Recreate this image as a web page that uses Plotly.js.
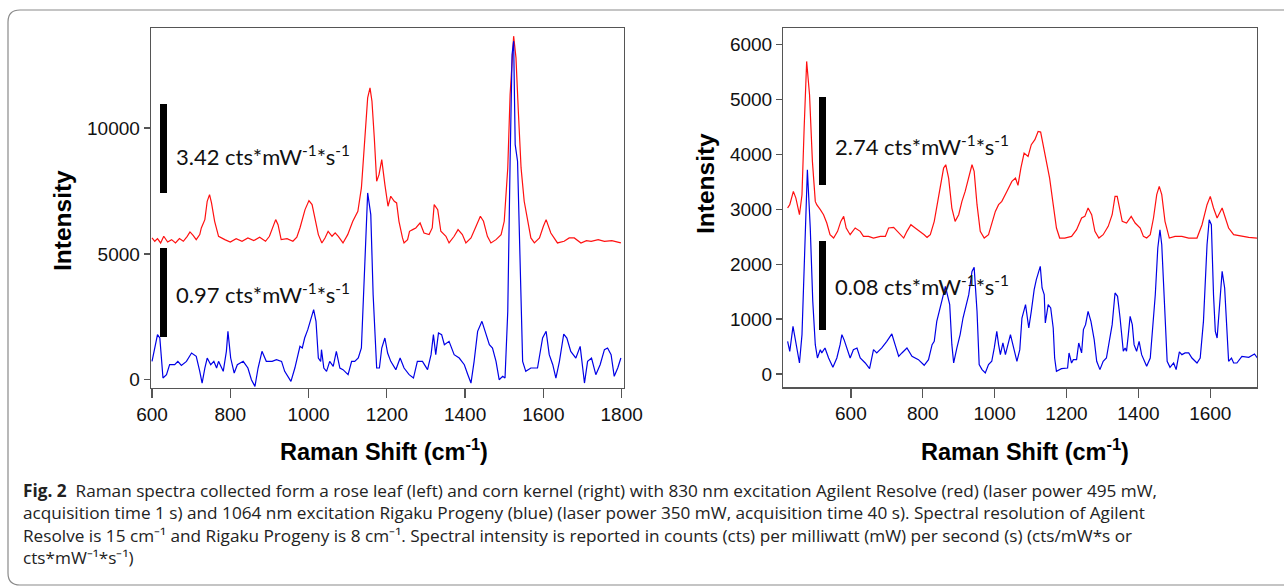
<!DOCTYPE html>
<html><head><meta charset="utf-8">
<script src="https://cdn.plot.ly/plotly-3.0.1.min.js"></script>
<style>html,body{margin:0;padding:0;background:#fff;} #chart{width:1284px;height:586px;}</style>
</head><body><div id="chart"></div>
<script>
// ---------- DATA ----------
// Left panel: rose leaf
const leftRedX = [600,607,614,622,630,640,650,660,670,680,690,697,705,713,722,726,735,741,747,752,760,770,786,800,815,830,845,860,875,890,900,908,916,922,930,945,960,970,978,991,1001,1009,1016,1025,1034,1042,1050,1060,1068,1076,1088,1100,1113,1126,1135,1143,1151,1157,1162,1168,1174,1180,1187,1195,1203,1210,1219,1225,1231,1240,1244,1253,1258,1266,1274,1285,1295,1308,1316,1321,1330,1338,1351,1359,1372,1382,1393,1402,1415,1428,1439,1447,1457,1466,1479,1492,1500,1509,1515,1524,1530,1536,1543,1551,1560,1568,1577,1590,1600,1607,1619,1636,1653,1666,1679,1696,1710,1722,1740,1756,1775,1798];
const leftRedY = [5631,5499,5605,5433,5698,5472,5565,5433,5605,5499,5698,5870,5737,5565,5764,6029,6360,7089,7354,7022,6294,5698,5565,5472,5605,5499,5631,5525,5658,5499,5698,6029,6360,6161,5565,5605,5499,5658,6029,6757,7115,6956,6426,5764,5433,5631,5896,5698,5830,5698,5433,5764,6294,6691,7619,9606,11196,11594,11064,9606,7884,8149,8745,7751,6890,7288,7089,7022,6294,5631,5433,5565,5896,5963,6029,6228,5830,5764,6029,6956,6757,5896,5698,5433,5698,5963,5764,5433,5631,6095,6492,6294,5698,5433,5565,5764,6294,8414,11329,13648,12786,10666,8414,7089,6294,5631,5433,5631,6095,6360,5830,5433,5499,5631,5631,5433,5525,5499,5565,5499,5525,5433];
const leftBlueX = [600,607,614,620,628,637,645,658,666,675,688,701,713,722,728,735,741,750,758,765,770,782,790,794,801,810,818,833,845,854,863,871,881,892,907,918,931,939,955,965,978,984,990,998,1007,1013,1019,1025,1031,1033,1039,1046,1054,1063,1071,1080,1088,1101,1110,1118,1127,1135,1144,1151,1159,1165,1174,1181,1187,1195,1202,1210,1223,1234,1244,1257,1268,1278,1291,1304,1313,1319,1325,1332,1340,1347,1359,1372,1385,1398,1407,1415,1423,1432,1443,1453,1462,1470,1479,1487,1496,1502,1509,1515,1520,1524,1528,1534,1541,1547,1555,1568,1585,1598,1607,1615,1624,1632,1641,1652,1660,1670,1683,1694,1705,1713,1723,1734,1745,1756,1764,1773,1781,1790,1798];
const leftBlueY = [729,1259,1789,1656,66,199,596,596,729,570,729,1060,928,331,-133,464,861,596,729,464,729,331,1126,1921,861,265,596,729,464,0,-265,464,1126,729,729,795,729,331,-66,464,1325,1259,1656,1988,2451,2782,2319,861,729,1193,464,331,729,530,1126,464,398,199,729,729,861,1259,4704,7420,6559,3379,464,464,1259,1656,1060,729,398,861,464,199,66,729,729,398,994,1789,994,1855,1789,1391,1524,994,861,596,199,-133,729,1921,2319,1789,1391,1259,729,0,133,66,2716,8679,12919,13449,9341,8679,4704,729,331,464,464,1656,1921,994,596,66,729,1815,1656,1126,861,1325,-133,729,861,199,596,1193,1259,994,133,464,861];
// Right panel: corn kernel
const rightRedX = [424,430,440,447,457,464,470,477,485,493,501,505,515,524,533,542,552,563,572,580,587,598,612,626,635,649,663,682,696,705,719,733,747,756,767,779,793,804,812,821,832,841,851,858,864,872,881,890,900,909,918,928,937,943,951,960,971,983,992,1002,1011,1020,1034,1048,1058,1065,1073,1082,1093,1102,1112,1121,1128,1135,1144,1153,1163,1172,1181,1195,1214,1228,1242,1251,1260,1270,1279,1290,1302,1316,1327,1335,1341,1348,1355,1367,1380,1391,1405,1414,1423,1433,1442,1451,1458,1465,1474,1486,1502,1521,1540,1563,1577,1591,1600,1609,1619,1633,1642,1651,1665,1688,1707,1730];
const rightRedY = [3024,3085,3327,3206,2902,3267,4481,5696,5088,3874,3145,3085,2994,2902,2751,2538,2477,2599,2781,2872,2660,2538,2660,2599,2508,2508,2477,2508,2508,2660,2672,2568,2477,2599,2720,2660,2599,2538,2490,2538,2781,3145,3510,3752,3813,3570,3024,2781,2902,3145,3327,3570,3813,3692,3085,2599,2477,2538,2720,2963,3085,3145,3327,3510,3570,3437,3752,4026,3965,4178,4269,4420,4408,4178,3813,3570,3085,2660,2477,2477,2508,2629,2842,2872,3024,2902,2599,2477,2538,2690,2902,3236,3236,3024,2781,2751,2872,2751,2660,2508,2477,2538,2842,3267,3419,3267,2781,2477,2508,2508,2477,2477,2720,3085,3236,3024,2842,3024,2842,2660,2538,2508,2490,2477];
const rightBlueX = [424,430,439,447,457,464,470,479,487,494,501,507,515,519,528,538,550,561,570,575,581,589,598,607,617,626,640,652,663,672,686,700,714,723,733,742,756,770,788,804,816,826,832,839,849,855,863,869,875,881,886,895,904,912,918,928,937,943,951,957,965,974,983,992,999,1006,1011,1016,1023,1030,1044,1053,1062,1070,1076,1086,1095,1102,1110,1116,1121,1127,1132,1138,1141,1149,1156,1163,1167,1172,1186,1203,1207,1214,1219,1228,1234,1242,1247,1253,1260,1268,1277,1284,1293,1302,1311,1321,1327,1335,1342,1349,1353,1358,1363,1367,1372,1377,1383,1388,1395,1402,1409,1423,1433,1439,1447,1454,1460,1465,1473,1480,1488,1498,1505,1514,1521,1530,1540,1549,1563,1572,1581,1591,1597,1603,1609,1614,1619,1625,1633,1640,1645,1651,1659,1665,1674,1688,1707,1723,1731];
const rightBlueY = [595,413,868,534,200,717,2052,3722,2660,1324,534,291,443,383,474,291,121,291,534,717,625,474,291,443,474,291,200,97,443,383,474,595,729,534,322,383,474,322,261,158,261,534,595,959,1263,1384,1597,1445,1263,534,200,474,717,1020,1202,1445,1870,1943,1142,170,79,18,170,231,474,777,534,352,565,352,717,474,231,443,1020,1263,838,1142,1536,1718,1840,1961,1567,1445,929,1263,1202,838,291,49,97,109,383,200,261,261,565,383,808,899,1142,959,625,231,79,231,291,717,899,1476,1415,1020,717,413,474,413,717,1050,899,534,413,595,352,140,291,777,1445,2295,2629,2356,1142,231,121,200,79,401,352,383,383,291,200,291,959,2356,2811,2720,1445,777,656,1263,1870,1567,838,231,291,200,200,322,304,364,291];
// Tick values and labels
const leftXTicks = [600,800,1000,1200,1400,1600,1800];
const leftYTicks = [0,5000,10000];
const leftYTickText = ["0","5000","10000"];
const rightXTicks = [600,800,1000,1200,1400,1600];
const rightYTicks = [0,1000,2000,3000,4000,5000,6000];
const rightYTickText = ["0","1000","2000","3000","4000","5000","6000"];
// Texts
const scaleLabels = ["3.42","0.97","2.74","0.08"];
const captionLines = [
  "<b>Fig. 2</b>&nbsp; Raman spectra collected form a rose leaf (left) and corn kernel (right) with 830 nm excitation Agilent Resolve (red) (laser power 495 mW,",
  "acquisition time 1 s) and 1064 nm excitation Rigaku Progeny (blue) (laser power 350 mW, acquisition time 40 s). Spectral resolution of Agilent",
  "Resolve is 15 cm⁻¹ and Rigaku Progeny is 8 cm⁻¹. Spectral intensity is reported in counts (cts) per milliwatt (mW) per second (s) (cts/mW*s or",
  "cts*mW⁻¹*s⁻¹)"
];

// ---------- LAYOUT HELPERS ----------
const W = 1284, H = 586;
const px = x => x / W;
const py = y => 1 - y / H;

const RED = '#ff1010', BLUE = '#0000e6';
const traces = [
  {x: leftRedX, y: leftRedY, xaxis: 'x', yaxis: 'y', mode: 'lines', line: {color: RED, width: 1.2}},
  {x: leftBlueX, y: leftBlueY, xaxis: 'x', yaxis: 'y', mode: 'lines', line: {color: BLUE, width: 1.2}},
  {x: rightRedX, y: rightRedY, xaxis: 'x2', yaxis: 'y2', mode: 'lines', line: {color: RED, width: 1.2}},
  {x: rightBlueX, y: rightBlueY, xaxis: 'x2', yaxis: 'y2', mode: 'lines', line: {color: BLUE, width: 1.2}}
];

const tickFont = {family: 'Liberation Sans, Arial, sans-serif', size: 19, color: '#111'};
const axBase = {showgrid: false, zeroline: false, showline: true, mirror: true, linecolor: '#555', linewidth: 1.3,
  ticks: 'outside', tickcolor: '#555', tickwidth: 1.3, tickfont: tickFont, fixedrange: true};

const titleFont = {family: 'Liberation Sans, Arial, sans-serif', size: 23.5, color: '#000'};
const yTitleFont = {family: 'Liberation Sans, Arial, sans-serif', size: 24.5, color: '#000'};
const lblFont = {family: 'Lato, sans-serif', size: 22, color: '#111'};
const capFont = {family: 'Open Sans, sans-serif', size: 17.2, color: '#222'};

function ann(text, x, y, opts) {
  return Object.assign({text: text, x: px(x), y: py(y), xref: 'paper', yref: 'paper', showarrow: false,
    xanchor: 'left', yanchor: 'middle'}, opts || {});
}
const annotations = [
  ann('<b>Intensity</b>', 63, 221, {textangle: -90, xanchor: 'center', font: yTitleFont}),
  ann('<b>Intensity</b>', 705, 184, {textangle: -90, xanchor: 'center', font: yTitleFont}),
  ann('<b>Raman Shift (cm<sup>-1</sup>)</b>', 384, 450, {xanchor: 'center', font: titleFont}),
  ann('<b>Raman Shift (cm<sup>-1</sup>)</b>', 1025, 450, {xanchor: 'center', font: titleFont}),
  ann(scaleLabels[0] + ' cts*mW<sup>-1</sup>*s<sup>-1</sup>', 174, 155, {font: lblFont}),
  ann(scaleLabels[1] + ' cts*mW<sup>-1</sup>*s<sup>-1</sup>', 174, 293, {font: lblFont}),
  ann(scaleLabels[2] + ' cts*mW<sup>-1</sup>*s<sup>-1</sup>', 833, 146, {font: lblFont}),
  ann(scaleLabels[3] + ' cts*mW<sup>-1</sup>*s<sup>-1</sup>', 833, 285, {font: lblFont}),
  // caption as a single multi-line block
  ann(captionLines.join('<br>'), 21, 477, {yanchor: 'top', align: 'left', font: capFont})
];

function bar(x0, x1, y0, y1) {
  return {type: 'rect', xref: 'paper', yref: 'paper', x0: px(x0), x1: px(x1), y0: py(y1), y1: py(y0),
    fillcolor: '#000', line: {width: 0}};
}
function framePath() {
  const L = 8, T = 10, B = 585, R = 1300, r = 12;
  const P = (x, y) => px(x) + ',' + py(y);
  return 'M ' + P(R, T) + ' L ' + P(L + r, T) + ' Q ' + P(L, T) + ' ' + P(L, T + r) +
    ' L ' + P(L, B - r) + ' Q ' + P(L, B) + ' ' + P(L + r, B) + ' L ' + P(R, B);
}
const shapes = [
  {type: 'path', xref: 'paper', yref: 'paper', path: framePath(), line: {color: '#8a8a8a', width: 1.2}},
  bar(160, 167, 104, 193),
  bar(160, 167, 248, 337),
  bar(819, 826, 97, 185),
  bar(819, 826, 241, 330)
];

const layout = {
  width: W, height: H, autosize: false, showlegend: false,
  margin: {l: 0, r: 0, t: 0, b: 0, pad: 0},
  paper_bgcolor: '#fff', plot_bgcolor: '#fff',
  xaxis: Object.assign({}, axBase, {domain: [px(151), px(624)], range: [597.4, 1806], tickvals: leftXTicks, ticktext: leftXTicks.map(String), ticklen: 9, anchor: 'y'}),
  yaxis: Object.assign({}, axBase, {domain: [py(388), py(28)], range: [-330, 13973], tickvals: leftYTicks, ticktext: leftYTickText, ticklen: 6, anchor: 'x'}),
  xaxis2: Object.assign({}, axBase, {domain: [px(783.3), px(1257)], range: [412, 1730], tickvals: rightXTicks, ticktext: rightXTicks.map(String), ticklen: 9, anchor: 'y2'}),
  yaxis2: Object.assign({}, axBase, {domain: [py(387.3), py(28)], range: [-243, 6305], tickvals: rightYTicks, ticktext: rightYTickText, ticklen: 6, anchor: 'x2'}),
  annotations: annotations,
  shapes: shapes
};

Plotly.newPlot('chart', traces, layout, {displayModeBar: false, staticPlot: true});
</script>
</body></html>
